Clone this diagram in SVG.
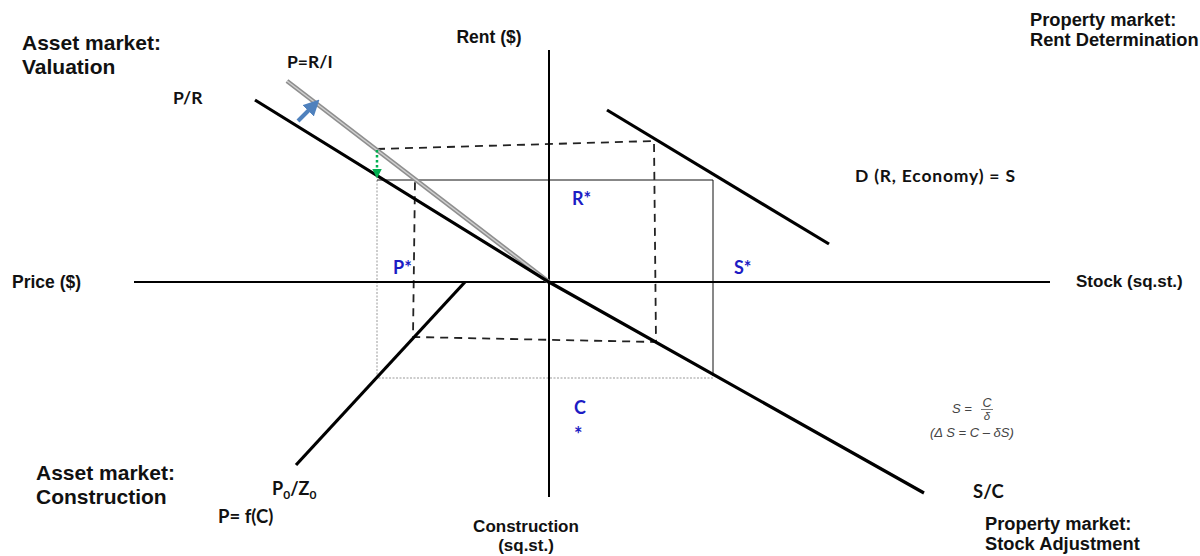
<svg xmlns="http://www.w3.org/2000/svg" width="1200" height="556" viewBox="0 0 1200 556">
<style>
.ar{font-family:"Liberation Sans",Arial,sans-serif;font-weight:bold;fill:#111}
.cb{font-family:Lato,"Liberation Sans",sans-serif;font-weight:bold;fill:#111}
.bl{font-family:Lato,"Liberation Sans",sans-serif;font-weight:bold;fill:#1c1cc4}
.fm{font-family:"Liberation Sans",Arial,sans-serif;font-style:italic;fill:#444}
.ax{stroke:#000;stroke-width:2;fill:none}
.crv{stroke:#000;stroke-width:3.2;fill:none;stroke-linecap:butt}
.dash{stroke:#222;stroke-width:1.8;stroke-dasharray:8 6;fill:none}
.thin{stroke:#111;stroke-width:1;fill:none}
.dot{stroke:#999;stroke-width:1;stroke-dasharray:2 1.5;fill:none}
</style>
<defs>
<marker id="blueHead" markerWidth="4" markerHeight="4" refX="1" refY="2" orient="auto" markerUnits="strokeWidth">
<path d="M0,0 L4,2 L0,4 z" fill="#4f81bd"/>
</marker>
<marker id="greenHead" markerWidth="4" markerHeight="4" refX="1" refY="2" orient="auto" markerUnits="strokeWidth">
<path d="M0,0 L4,2 L0,4 z" fill="#00b050"/>
</marker>
</defs>
<rect width="1200" height="556" fill="#fff"/>

<g id="connectors">
<polyline class="dot" points="377,180 377,378 713,378"/>
<polyline class="thin" points="377,180 713,180 713,376"/>
<polyline class="dash" points="377,149 654,141 656,342 413,337 415,180"/>
<line class="ax" x1="134" y1="282" x2="1050" y2="282"/>
<line class="ax" x1="549" y1="50" x2="549" y2="497"/>
<line x1="287" y1="81" x2="549" y2="282" stroke="#8f8f8f" stroke-width="4.5"/>
<line x1="287" y1="81" x2="549" y2="282" stroke="#d0d0d0" stroke-width="1.5"/>
<polyline class="crv" points="255,100 549,282 924,493"/>
<line class="crv" x1="465" y1="282" x2="296" y2="465"/>
<line class="crv" x1="607" y1="110" x2="829" y2="244"/>
<line x1="298" y1="121" x2="311" y2="108" stroke="#4f81bd" stroke-width="4" marker-end="url(#blueHead)"/>
<line x1="377" y1="150" x2="377" y2="171" stroke="#00b050" stroke-width="2.5" stroke-dasharray="2.5 2.5" marker-end="url(#greenHead)"/>
</g>

<g id="label-asset-valuation">
<text class="ar" x="22" y="50" font-size="21">Asset market:</text>
<text class="ar" x="22" y="74" font-size="21">Valuation</text>
</g>
<g id="label-property-rent">
<text class="ar" x="1030" y="26" font-size="18.3">Property market:</text>
<text class="ar" x="1030" y="46" font-size="18.3">Rent Determination</text>
</g>
<g id="label-asset-construction">
<text class="ar" x="36" y="480" font-size="21">Asset market:</text>
<text class="ar" x="36" y="504" font-size="21">Construction</text>
</g>
<g id="label-property-stock">
<text class="ar" x="985" y="530" font-size="18.3">Property market:</text>
<text class="ar" x="985" y="550" font-size="18.3">Stock Adjustment</text>
</g>

<g id="axis-labels">
<text class="ar" x="489" y="43" font-size="17.5" text-anchor="middle">Rent ($)</text>
<text class="ar" x="12" y="288" font-size="17.5">Price ($)</text>
<text class="ar" x="1076" y="287" font-size="17">Stock (sq.st.)</text>
<text class="ar" x="526" y="532" font-size="17" text-anchor="middle">Construction</text>
<text class="ar" x="526" y="551" font-size="17" text-anchor="middle">(sq.st.)</text>
</g>

<g id="curve-labels">
<text class="cb" x="287" y="68" font-size="17.5">P=R/I</text>
<text class="cb" x="173" y="104" font-size="17.5">P/R</text>
<text class="cb" x="855" y="182" font-size="17.5" textLength="160">D (R, Economy) = S</text>
<text class="cb" x="973" y="498" font-size="18.5">S/C</text>
<text class="cb" x="272" y="495" font-size="18">P<tspan font-size="12" dy="4">0</tspan><tspan dy="-4">/Z</tspan><tspan font-size="12" dy="4">0</tspan></text>
<text class="cb" x="218" y="523" font-size="18.5">P= f(C)</text>
</g>

<g id="equilibrium-labels">
<text class="bl" x="572" y="205" font-size="18">R*</text>
<text class="bl" x="393" y="274" font-size="18">P*</text>
<text class="bl" x="734" y="274" font-size="18">S*</text>
<text class="bl" x="574" y="414" font-size="18">C</text>
<text class="bl" x="574" y="442" font-size="20">*</text>
</g>

<g id="formula">
<text class="fm" x="952" y="413" font-size="13">S =</text>
<text class="fm" x="987" y="407" font-size="12.5" text-anchor="middle">C</text>
<line x1="981" y1="409.5" x2="993" y2="409.5" stroke="#555" stroke-width="0.8"/>
<text class="fm" x="987" y="420" font-size="11.5" text-anchor="middle">δ</text>
<text class="fm" x="930" y="437" font-size="13">(Δ S = C – δS)</text>
</g>
</svg>
